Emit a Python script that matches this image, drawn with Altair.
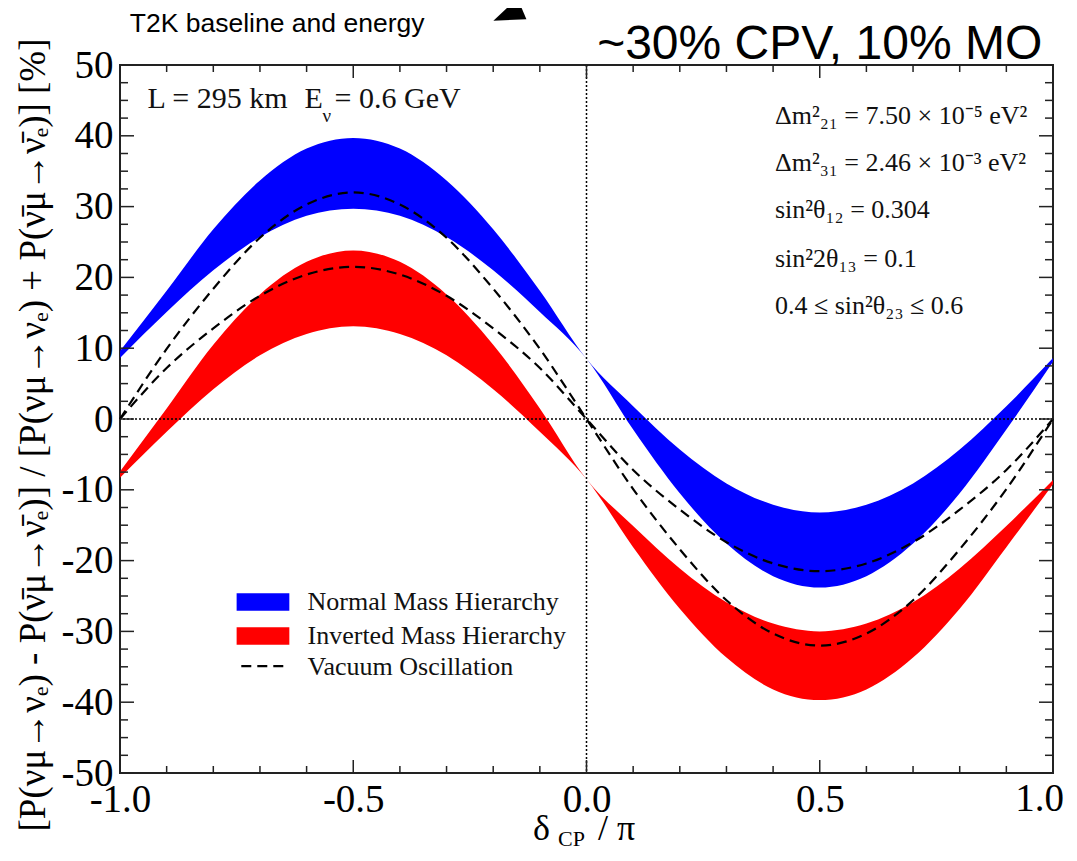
import altair as alt
import pandas as pd

# ---------------- data ----------------
delta = [-1.0, -0.9, -0.8, -0.7, -0.6, -0.5, -0.4, -0.3, -0.2, -0.1, 0.0,
         0.1, 0.2, 0.3, 0.4, 0.5, 0.6, 0.7, 0.8, 0.9, 1.0]

nh_hi = [9.6, 18.1, 26.8, 33.7, 38.2, 39.7, 38.2, 33.7, 26.8, 18.1, 8.5,
         1.8, -4.3, -9.1, -12.1, -13.2, -12.1, -9.1, -4.3, 1.8, 8.6]
nh_lo = [8.6, 15.1, 21.0, 25.7, 28.7, 29.7, 28.7, 25.7, 21.0, 15.1, 8.5,
         -1.5, -10.5, -17.6, -22.2, -23.8, -22.2, -17.6, -10.5, -1.5, 8.1]
ih_hi = [-7.4, 1.5, 10.5, 17.6, 22.2, 23.8, 22.2, 17.6, 10.5, 1.5, -8.5,
         -15.1, -21.1, -25.9, -28.9, -30.0, -28.9, -25.9, -21.1, -15.1, -8.6]
ih_lo = [-8.3, -1.8, 4.2, 9.0, 12.0, 13.1, 12.0, 9.0, 4.2, -1.8, -8.5,
         -18.1, -26.8, -33.7, -38.2, -39.7, -38.2, -33.7, -26.8, -18.1, -9.2]

vac_a = [0.0, 9.9, 18.4, 25.6, 30.3, 32.0, 30.3, 25.6, 18.4, 9.9, 0.0,
         -9.9, -18.4, -25.6, -30.3, -32.0, -30.3, -25.6, -18.4, -9.9, 0.0]
vac_b = [0.0, 7.2, 12.8, 17.4, 20.4, 21.5, 20.4, 17.4, 12.8, 7.2, 0.0,
         -7.2, -12.8, -17.4, -20.4, -21.5, -20.4, -17.4, -12.8, -7.2, 0.0]

x_major = [-1.0, -0.5, 0.0, 0.5, 1.0]
x_labels_axis = [-1.0, -0.5, 0.0, 0.5]
x_label_last = [1.0]
x_minor = [-0.9, -0.8, -0.7, -0.6, -0.4, -0.3, -0.2, -0.1,
           0.1, 0.2, 0.3, 0.4, 0.6, 0.7, 0.8, 0.9]
y_major = [-50, -40, -30, -20, -10, 0, 10, 20, 30, 40, 50]
y_minor = [-47.5, -45, -42.5, -37.5, -35, -32.5, -27.5, -25, -22.5,
           -17.5, -15, -12.5, -7.5, -5, -2.5, 2.5, 5, 7.5, 12.5, 15, 17.5,
           22.5, 25, 27.5, 32.5, 35, 37.5, 42.5, 45, 47.5]

legend_labels = ["Normal Mass Hierarchy", "Inverted Mass Hierarchy", "Vacuum Oscillation"]
param_labels = ["Δm²₂₁ = 7.50 × 10⁻⁵ eV²", "Δm²₃₁ = 2.46 × 10⁻³ eV²",
                "sin²θ₁₂ = 0.304", "sin²2θ₁₃ = 0.1", "0.4 ≤ sin²θ₂₃ ≤ 0.6"]

# ---------------- layout constants ----------------
W, H = 933, 708
SERIF = "Liberation Serif"
SANS = "Liberation Sans"
TMAJ, TMIN = 13, 7

band_df = pd.concat([
    pd.DataFrame({"delta": delta, "lo": nh_lo, "hi": nh_hi, "h": "NH"}),
    pd.DataFrame({"delta": delta, "lo": ih_lo, "hi": ih_hi, "h": "IH"}),
])
vac_df = pd.concat([
    pd.DataFrame({"delta": delta, "v": vac_a, "c": "a"}),
    pd.DataFrame({"delta": delta, "v": vac_b, "c": "b"}),
])

xs = alt.Scale(domain=[-1, 1], nice=False, zero=False)
ys = alt.Scale(domain=[-50, 50], nice=False, zero=False)

x_axis = alt.Axis(values=x_labels_axis, ticks=False, domain=False, grid=False, title=None,
                  labelFont=SERIF, labelFontSize=39, labelColor="black", labelPadding=7,
                  labelFlush=False, labelOverlap=False,
                  labelExpr="datum.value < 0 ? '-' + format(-datum.value, '.1f') : format(datum.value, '.1f')")
y_axis = alt.Axis(values=y_major, ticks=False, domain=False, grid=False, title=None,
                  labelFont=SERIF, labelFontSize=39, labelColor="black", labelPadding=7,
                  labelFlush=False, labelOverlap=False,
                  labelExpr="datum.value < 0 ? '-' + format(-datum.value, 'd') : format(datum.value, 'd')")

bands = alt.Chart(band_df).mark_area(interpolate="monotone").encode(
    x=alt.X("delta:Q", scale=xs, axis=x_axis),
    y=alt.Y("lo:Q", scale=ys, axis=y_axis),
    y2="hi:Q",
    color=alt.Color("h:N", scale=alt.Scale(domain=["NH", "IH"], range=["#0000ff", "#ff0000"]), legend=None),
)

last_label = alt.Chart(pd.DataFrame({"v": x_label_last})).mark_text(
    font=SERIF, fontSize=39, align="right", baseline="top", dx=11, color="black").encode(
    x=alt.X("v:Q", scale=xs), y=alt.value(H + 7), text=alt.Text("v:Q", format=".1f"))

zero_df = pd.DataFrame({"v": [0.0]})
hzero = alt.Chart(zero_df).mark_rule(color="black", strokeWidth=1.5, strokeDash=[2, 2]).encode(y=alt.Y("v:Q", scale=ys))
vzero = alt.Chart(zero_df).mark_rule(color="black", strokeWidth=1.5, strokeDash=[2, 2]).encode(x=alt.X("v:Q", scale=xs))

vac = alt.Chart(vac_df).mark_line(interpolate="monotone", color="black", strokeWidth=2.2,
                                  strokeDash=[10, 6]).encode(
    x=alt.X("delta:Q", scale=xs), y=alt.Y("v:Q", scale=ys), detail="c:N")

# ticks (pointing inward on all four sides)
tick_layers = []
for vals, ln in ((x_major, TMAJ), (x_minor, TMIN)):
    d = pd.DataFrame({"v": vals})
    tick_layers.append(alt.Chart(d).mark_rule(color="#222", strokeWidth=1.5).encode(
        x=alt.X("v:Q", scale=xs), y=alt.value(H), y2=alt.value(H - ln)))
    tick_layers.append(alt.Chart(d).mark_rule(color="#222", strokeWidth=1.5).encode(
        x=alt.X("v:Q", scale=xs), y=alt.value(0), y2=alt.value(ln)))
for vals, ln in ((y_major, TMAJ + 1), (y_minor, TMIN + 1)):
    d = pd.DataFrame({"v": vals})
    tick_layers.append(alt.Chart(d).mark_rule(color="#222", strokeWidth=1.5).encode(
        y=alt.Y("v:Q", scale=ys), x=alt.value(0), x2=alt.value(ln)))
    tick_layers.append(alt.Chart(d).mark_rule(color="#222", strokeWidth=1.5).encode(
        y=alt.Y("v:Q", scale=ys), x=alt.value(W), x2=alt.value(W - ln)))

# legend (inside the plot, in data coordinates)
leg_box = pd.DataFrame({"x1": [-0.750, -0.750], "x2": [-0.637, -0.637],
                        "y1": [-24.6, -29.4], "y2": [-27.1, -31.9], "h": ["NH", "IH"]})
leg_rects = alt.Chart(leg_box).mark_rect().encode(
    x=alt.X("x1:Q", scale=xs), x2="x2:Q", y=alt.Y("y1:Q", scale=ys), y2="y2:Q",
    color=alt.Color("h:N", scale=alt.Scale(domain=["NH", "IH"], range=["#0000ff", "#ff0000"]), legend=None))
leg_dash = alt.Chart(pd.DataFrame({"x1": [-0.740], "x2": [-0.641], "y": [-34.9]})).mark_rule(
    color="black", strokeWidth=2.2, strokeDash=[10, 6]).encode(
    x=alt.X("x1:Q", scale=xs), x2="x2:Q", y=alt.Y("y:Q", scale=ys))
leg_text = alt.Chart(pd.DataFrame({"x": [-0.598] * 3, "y": [-25.9, -30.6, -35.0],
                                   "t": legend_labels})).mark_text(
    font=SERIF, fontSize=26, align="left", baseline="middle", color="#111").encode(
    x=alt.X("x:Q", scale=xs), y=alt.Y("y:Q", scale=ys), text="t:N")

# parameter block
params = alt.Chart(pd.DataFrame({"x": [0.404] * 5, "y": [41.6, 35.0, 28.4, 21.5, 14.8],
                                 "t": param_labels})).mark_text(
    font=SERIF, fontSize=26, align="left", baseline="alphabetic", color="#111").encode(
    x=alt.X("x:Q", scale=xs), y=alt.Y("y:Q", scale=ys), text="t:N")

# L and E
le_main = alt.Chart(pd.DataFrame({"x": [-0.941, -0.6045, -0.540], "y": [43.9, 43.9, 43.9],
                                  "t": ["L = 295 km", "E", "= 0.6 GeV"]})).mark_text(
    font=SERIF, fontSize=30, align="left", baseline="alphabetic", color="#111").encode(
    x=alt.X("x:Q", scale=xs), y=alt.Y("y:Q", scale=ys), text="t:N")
le_sub = alt.Chart(pd.DataFrame({"x": [-0.566], "y": [42.0], "t": ["ν"]})).mark_text(
    font=SERIF, fontSize=19, align="left", baseline="alphabetic", color="#111").encode(
    x=alt.X("x:Q", scale=xs), y=alt.Y("y:Q", scale=ys), text="t:N")

# header texts and arrow (above the plot, in data coordinates)
hdr1 = alt.Chart(pd.DataFrame({"x": [-0.979], "y": [54.7], "t": ["T2K baseline and energy"]})).mark_text(
    font=SANS, fontSize=26.5, align="left", baseline="alphabetic", color="black").encode(
    x=alt.X("x:Q", scale=xs), y=alt.Y("y:Q", scale=ys), text="t:N")
hdr2 = alt.Chart(pd.DataFrame({"x": [0.977], "y": [50.9], "t": ["~30% CPV, 10% MO"]})).mark_text(
    font=SANS, fontSize=48, align="right", baseline="alphabetic", color="black").encode(
    x=alt.X("x:Q", scale=xs), y=alt.Y("y:Q", scale=ys), text="t:N")
arrow_line = alt.Chart(pd.DataFrame({"x1": [-0.090], "y1": [60.0], "x2": [-0.169], "y2": [57.1]})).mark_rule(
    color="black", strokeWidth=1.5).encode(
    x=alt.X("x1:Q", scale=xs), y=alt.Y("y1:Q", scale=ys), x2="x2:Q", y2="y2:Q")
arrow_head = alt.Chart(pd.DataFrame({"x": [-0.169], "y": [57.1]})).mark_point(
    shape="M0,-1L0.74,1L-0.74,1Z", filled=True, color="black", opacity=1, size=960, angle=247).encode(
    x=alt.X("x:Q", scale=xs), y=alt.Y("y:Q", scale=ys))

# axis titles
xt_main = alt.Chart(pd.DataFrame({"x": [413, 478], "t": ["δ", "/ π"]})).mark_text(
    font=SERIF, fontSize=36, align="left", baseline="alphabetic", color="black").encode(
    x=alt.X("x:Q", scale=None), y=alt.value(H + 67), text="t:N")
xt_sub = alt.Chart(pd.DataFrame({"x": [438], "t": ["CP"]})).mark_text(
    font=SERIF, fontSize=22, align="left", baseline="alphabetic", color="black").encode(
    x=alt.X("x:Q", scale=None), y=alt.value(H + 73), text="t:N")
yt = alt.Chart(pd.DataFrame({"t": ["[P(νμ→νₑ) - P(ν̄μ→ν̄ₑ)] / [P(νμ→νₑ) + P(ν̄μ→ν̄ₑ)] [%]"]})).mark_text(
    font=SERIF, fontSize=37, angle=270, align="center", baseline="middle", color="black").encode(
    x=alt.value(-86), y=alt.value(370), text="t:N")

chart = alt.layer(
    bands, last_label, hzero, vzero, vac, *tick_layers, leg_rects, leg_dash, leg_text, params,
    le_main, le_sub, hdr1, hdr2, arrow_line, arrow_head, xt_main, xt_sub, yt
).properties(
    width=W, height=H,
    autosize=alt.AutoSizeParams(type="none"),
    padding={"left": 112, "top": 57, "right": 14, "bottom": 79},
).configure_view(stroke="#222", strokeWidth=2)

chart.save("out.html", embed_options={"renderer": "svg", "actions": False})
